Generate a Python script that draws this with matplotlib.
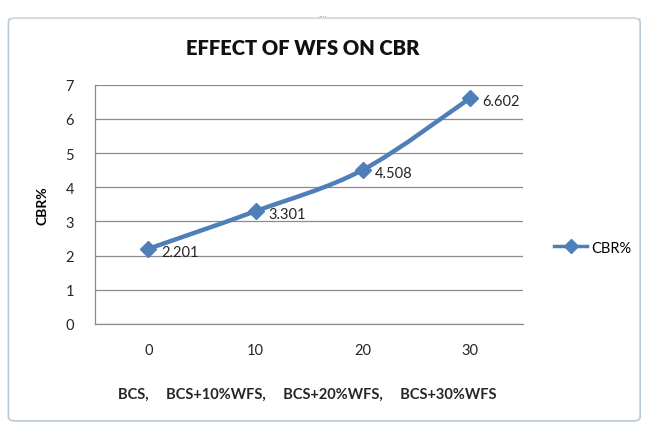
import matplotlib.pyplot as plt
from matplotlib.path import Path
from matplotlib.patches import PathPatch, FancyBboxPatch
from matplotlib.lines import Line2D

plt.rcParams['font.family'] = ['Lato', 'DejaVu Sans']

wfs = ['0', '10', '20', '30']
mix_names = ['BCS,', 'BCS+10%WFS,', 'BCS+20%WFS,', 'BCS+30%WFS']
cbr = [2.201, 3.301, 4.508, 6.602]

blue = '#4f7fb8'
grid = '#8c8c8c'


def smooth_path(xs, ys, t=1/6):
    # Catmull-Rom style bezier through the points, like a smoothed line
    verts = [(xs[0], ys[0])]
    codes = [Path.MOVETO]
    n = len(xs)
    for i in range(n - 1):
        x0, y0 = xs[max(i - 1, 0)], ys[max(i - 1, 0)]
        x1, y1 = xs[i], ys[i]
        x2, y2 = xs[i + 1], ys[i + 1]
        x3, y3 = xs[min(i + 2, n - 1)], ys[min(i + 2, n - 1)]
        c1 = (x1 + (x2 - x0) * t, y1 + (y2 - y0) * t)
        c2 = (x2 - (x3 - x1) * t, y2 - (y3 - y1) * t)
        verts += [c1, c2, (x2, y2)]
        codes += [Path.CURVE4] * 3
    return Path(verts, codes)


fig = plt.figure(figsize=(6.46, 4.27), dpi=100)
fig.patch.set_facecolor('white')

# chart frame
frame = FancyBboxPatch((0.013, 0.012), 0.978, 0.943, boxstyle='round,pad=0,rounding_size=0.01',
                       transform=fig.transFigure, facecolor='none', edgecolor='#b9c9d6', linewidth=1.2)
fig.patches.append(frame)
fig.add_artist(Line2D([0.013, 0.991], [0.955, 0.955], color='#d5dde3', lw=0.8))
fig.text(0.5, 0.966, '....', ha='center', va='center', fontsize=7, color='#7a8a98')

ax = fig.add_axes([0.147, 0.239, 0.663, 0.560])
ax.patch.set_alpha(0)
xs = list(range(len(cbr)))
ax.set_xlim(-0.5, len(cbr) - 0.5)
ax.set_ylim(0, 7)
ax.set_yticks(range(0, 8))
ax.set_xticks(xs)
ax.set_xticklabels(wfs)
ax.yaxis.grid(True, color=grid, linewidth=0.9)
ax.set_axisbelow(True)
for side in ['top', 'right']:
    ax.spines[side].set_visible(False)
for side in ['left', 'bottom']:
    ax.spines[side].set_color(grid)
    ax.spines[side].set_linewidth(0.9)
ax.tick_params(axis='both', length=0, labelsize=10.5, colors='#262626')
ax.tick_params(axis='x', pad=14)
ax.tick_params(axis='y', pad=15)

ax.add_patch(PathPatch(smooth_path(xs, cbr), facecolor='none', edgecolor=blue,
                       linewidth=3.2, capstyle='round', zorder=3))
ax.plot(xs, cbr, linestyle='none', marker='D', markersize=8, color=blue, zorder=4)
for x, v in zip(xs, cbr):
    ax.annotate(f'{v:.3f}', (x, v), xytext=(9, -2), textcoords='offset points',
                ha='left', va='center', fontsize=10.5, color='#262626')

ax.set_ylabel('CBR%', fontsize=10, fontweight='bold', labelpad=12)
fig.text(0.468, 0.887, 'EFFECT OF WFS ON CBR', ha='center', va='center',
         fontsize=14.5, fontweight='heavy', color='#111111')
fig.text(0.475, 0.075, '     '.join(mix_names), ha='center', va='center',
         fontsize=10.5, fontweight='bold', color='#262626')

handle = Line2D([], [], color=blue, linewidth=2.5, marker='D', markersize=7)
fig.legend([handle], ['CBR%'], loc='center left', bbox_to_anchor=(0.838, 0.418),
           frameon=False, fontsize=10.5, handlelength=2.2, handletextpad=0.3)

fig.savefig('out.png', dpi=100)
